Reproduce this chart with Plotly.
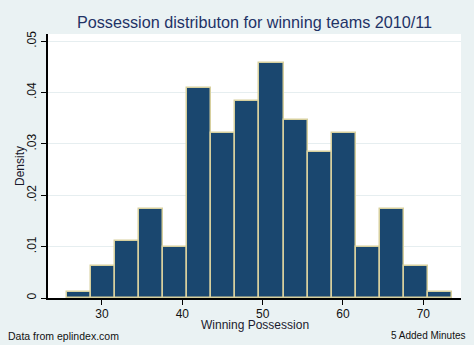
import plotly.graph_objects as go

# Histogram data
bin_left = [25.6, 28.6, 31.6, 34.6, 37.6, 40.6, 43.6, 46.6,
            49.6, 52.6, 55.6, 58.6, 61.6, 64.6, 67.6, 70.6]
bin_width = 3.0
density = [0.00124, 0.0062, 0.01115, 0.01735, 0.00991, 0.04089, 0.03222, 0.03841,
           0.04585, 0.0347, 0.0285, 0.03222, 0.00991, 0.01735, 0.0062, 0.00124]

x_ticks = [30, 40, 50, 60, 70]
y_ticks = [0, 0.01, 0.02, 0.03, 0.04, 0.05]
y_ticktext = ["0", ".01", ".02", ".03", ".04", ".05"]

title_text = "Possession distributon for winning teams 2010/11"
x_title = "Winning Possession"
y_title = "Density"
note_left = "Data from eplindex.com"
note_right = "5 Added Minutes"

BG = "#EAF2F3"
NAVY = "#1A476F"
EDGE = "#D7D09E"
FONT = "Liberation Sans, Arial, sans-serif"

centers = [b + bin_width / 2 for b in bin_left]

fig = go.Figure(go.Bar(
    x=centers, y=density, width=[bin_width] * len(centers),
    marker=dict(color=NAVY, line=dict(color=EDGE, width=1.5)),
    hoverinfo="skip",
))

W, H = 474, 345
L, R, T, B = 48, 13, 34, 47
pw, ph = W - L - R, H - T - B

def px_x(px):
    return (px - L) / pw

def px_y(py):
    return (H - B - py) / ph

fig.update_layout(
    width=W, height=H,
    margin=dict(l=L, r=R, t=T, b=B, pad=0),
    paper_bgcolor=BG, plot_bgcolor="white",
    showlegend=False,
    bargap=0,
    font=dict(family=FONT, size=12, color="#111111"),
    title=dict(text=title_text, x=0.5, xref="paper", xanchor="center",
               y=(H - 22) / H, yref="container", yanchor="middle",
               font=dict(family=FONT, size=16.2, color="#1F3366")),
    xaxis=dict(range=[23.28, 74.69], tickvals=x_ticks, ticks="outside", ticklen=5,
               tickcolor="black", tickwidth=1, showline=True, linecolor="black",
               linewidth=1.5, showgrid=False, zeroline=False, ticklabelstandoff=-1,
               tickfont=dict(size=12, color="#111111")),
    yaxis=dict(range=[0, 0.0514], tickvals=y_ticks, ticktext=y_ticktext,
               tickangle=-90, ticks="outside", ticklen=5, tickcolor="black",
               tickwidth=1, showline=True, linecolor="black", linewidth=1.5,
               showgrid=True, gridcolor="#E6EEF0", gridwidth=1, zeroline=False,
               tickfont=dict(size=12, color="#111111")),
    annotations=[
        dict(text=x_title, xref="paper", yref="paper", x=0.5, y=px_y(324.5),
             xanchor="center", yanchor="middle", showarrow=False,
             font=dict(size=12, color="#1A1A2E")),
        dict(text=y_title, xref="paper", yref="paper", x=px_x(20), y=0.5,
             xanchor="center", yanchor="middle", showarrow=False, textangle=-90,
             font=dict(size=12, color="#1A1A2E")),
        dict(text=note_left, xref="paper", yref="paper", x=px_x(6), y=px_y(336),
             xanchor="left", yanchor="middle", showarrow=False,
             font=dict(size=10.5, color="#111111")),
        dict(text=note_right, xref="paper", yref="paper", x=px_x(468), y=px_y(335),
             xanchor="right", yanchor="middle", showarrow=False,
             font=dict(size=10, color="#111111")),
    ],
)

fig.write_html("out.html")
